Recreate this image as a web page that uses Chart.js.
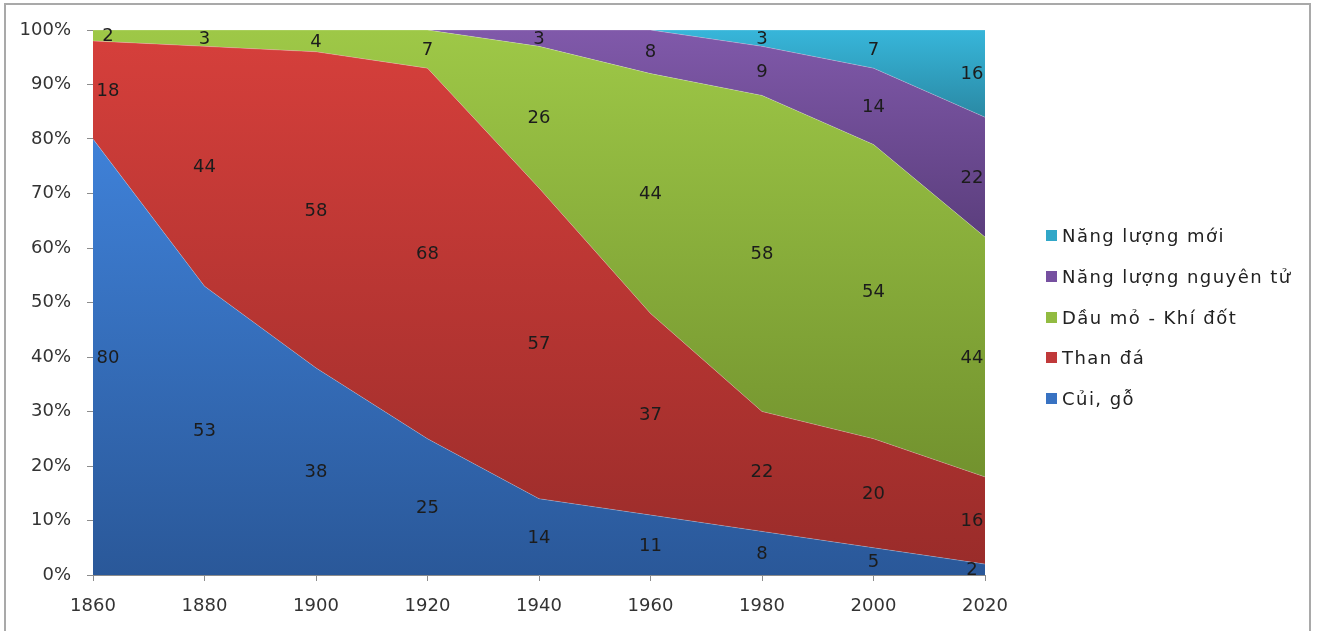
<!DOCTYPE html>
<html>
<head>
<meta charset="utf-8">
<script src="https://cdn.jsdelivr.net/npm/chart.js@4.4.1/dist/chart.umd.min.js"></script>
<style>
  html, body { margin: 0; padding: 0; background: #fff; }
  #wrap { position: relative; width: 1325px; height: 631px; overflow: hidden; }
  #frame { position: absolute; left: 4px; top: 3px; width: 1307px; height: 700px; border: 2px solid #a9a9a9; box-sizing: border-box; }
  #chart { position: absolute; left: 0; top: 0; }
  #legend { position: absolute; left: 1046px; top: 224px; font-family: "DejaVu Sans", sans-serif; font-size: 18px; color: #222; letter-spacing: 1.45px; }
  #legend div { height: 40.8px; line-height: 24px; white-space: nowrap; }
  #legend span.box { display: inline-block; width: 11px; height: 11px; margin-right: 5px; vertical-align: 1px; }
</style>
</head>
<body>
<div id="wrap">
  <div id="frame"></div>
  <canvas id="chart" width="1325" height="631"></canvas>
  <div id="legend"></div>
</div>
<script>
// years on the x axis
const years = ['1860', '1880', '1900', '1920', '1940', '1960', '1980', '2000', '2020'];

// share of each energy source (%)
const cuiGo = [80, 53, 38, 25, 14, 11, 8, 5, 2];
const thanDa = [18, 44, 58, 68, 57, 37, 22, 20, 16];
const dauMoKhiDot = [2, 3, 4, 7, 26, 44, 58, 54, 44];
const nguyenTu = [0, 0, 0, 0, 3, 8, 9, 14, 22];
const nangLuongMoi = [0, 0, 0, 0, 0, 0, 3, 7, 16];

const yTicks = [0, 10, 20, 30, 40, 50, 60, 70, 80, 90, 100];

const series = [
    { label: 'Củi, gỗ', data: cuiGo, top: '#3f81d8', bottom: '#2a5899', swatch: '#3872c2' },
    { label: 'Than đá', data: thanDa, top: '#d53f3b', bottom: '#9a2c2a', swatch: '#c0393a' },
    { label: 'Dầu mỏ - Khí đốt', data: dauMoKhiDot, top: '#9ec847', bottom: '#72922e', swatch: '#92bb41' },
    { label: 'Năng lượng nguyên tử', data: nguyenTu, top: '#8059aa', bottom: '#5b3e7d', swatch: '#7650a0' },
    { label: 'Năng lượng mới', data: nangLuongMoi, top: '#37b6da', bottom: '#2a89a4', swatch: '#31a7c8' }
];

// gradient over the vertical extent of each band
function bandGradient(i) {
    return (context) => {
        const chart = context.chart;
        const area = chart.chartArea;
        const s = series[i];
        if (!area) return s.top;
        const y = chart.scales.y;
        let hi = 0, lo = 100;
        years.forEach((_, j) => {
            let base = 0;
            for (let k = 0; k < i; k++) base += series[k].data[j];
            hi = Math.max(hi, base + s.data[j]);
            lo = Math.min(lo, base);
        });
        const g = chart.ctx.createLinearGradient(0, y.getPixelForValue(hi), 0, y.getPixelForValue(lo));
        g.addColorStop(0, s.top);
        g.addColorStop(1, s.bottom);
        return g;
    };
}

const bandLabels = {
    id: 'bandLabels',
    afterDatasetsDraw(chart) {
        const ctx = chart.ctx;
        const xs = chart.scales.x, ys = chart.scales.y;
        const area = chart.chartArea;
        ctx.save();
        ctx.font = '18px "DejaVu Sans", sans-serif';
        ctx.fillStyle = '#1c1c1c';
        ctx.textAlign = 'center';
        ctx.textBaseline = 'middle';
        series.forEach((s, i) => {
            s.data.forEach((v, j) => {
                if (!v) return;
                let base = 0;
                for (let k = 0; k < i; k++) base += series[k].data[j];
                let x = xs.getPixelForValue(j);
                if (j === 0) x = area.left + 15;
                if (j === years.length - 1) x = area.right - 13;
                const y = ys.getPixelForValue(base + v / 2) + 1;
                ctx.fillText(String(v), x, y);
            });
        });
        ctx.restore();
    }
};

const ctx = document.getElementById('chart').getContext('2d');
new Chart(ctx, {
    type: 'line',
    data: {
        labels: years,
        datasets: series.map((s, i) => ({
            label: s.label,
            data: s.data,
            fill: i === 0 ? 'origin' : '-1',
            backgroundColor: bandGradient(i),
            borderWidth: 1,
            borderColor: 'rgba(255,255,255,0.22)',
            pointRadius: 0,
            tension: 0
        }))
    },
    options: {
        responsive: false,
        animation: false,
        layout: { padding: { left: 0, top: 30, right: 340, bottom: 0 } },
        plugins: {
            legend: { display: false },
            tooltip: { enabled: false }
        },
        scales: {
            x: {
                offset: false,
                grid: { display: true, drawOnChartArea: false, tickLength: 6, color: '#8c8c8c' },
                border: { display: true, color: '#8c8c8c' },
                ticks: {
                    color: '#333',
                    padding: 15,
                    maxRotation: 0,
                    autoSkip: false,
                    font: { family: 'DejaVu Sans', size: 18 }
                },
                afterFit: (s) => { s.height = 56; }
            },
            y: {
                stacked: true,
                min: 0,
                max: 100,
                afterBuildTicks: (s) => { s.ticks = yTicks.map(v => ({ value: v })); },
                grid: { display: true, drawOnChartArea: false, tickLength: 6, color: '#8c8c8c' },
                border: { display: true, color: '#8c8c8c' },
                ticks: {
                    color: '#333',
                    padding: 16,
                    font: { family: 'DejaVu Sans', size: 18 },
                    callback: (v) => v + '%'
                },
                afterFit: (s) => { s.width = 93; }
            }
        }
    },
    plugins: [bandLabels]
});

// legend, top entry is the top band
const legend = document.getElementById('legend');
series.slice().reverse().forEach(s => {
    const row = document.createElement('div');
    const box = document.createElement('span');
    box.className = 'box';
    box.style.background = s.swatch;
    row.appendChild(box);
    row.appendChild(document.createTextNode(s.label));
    legend.appendChild(row);
});
</script>
</body>
</html>
